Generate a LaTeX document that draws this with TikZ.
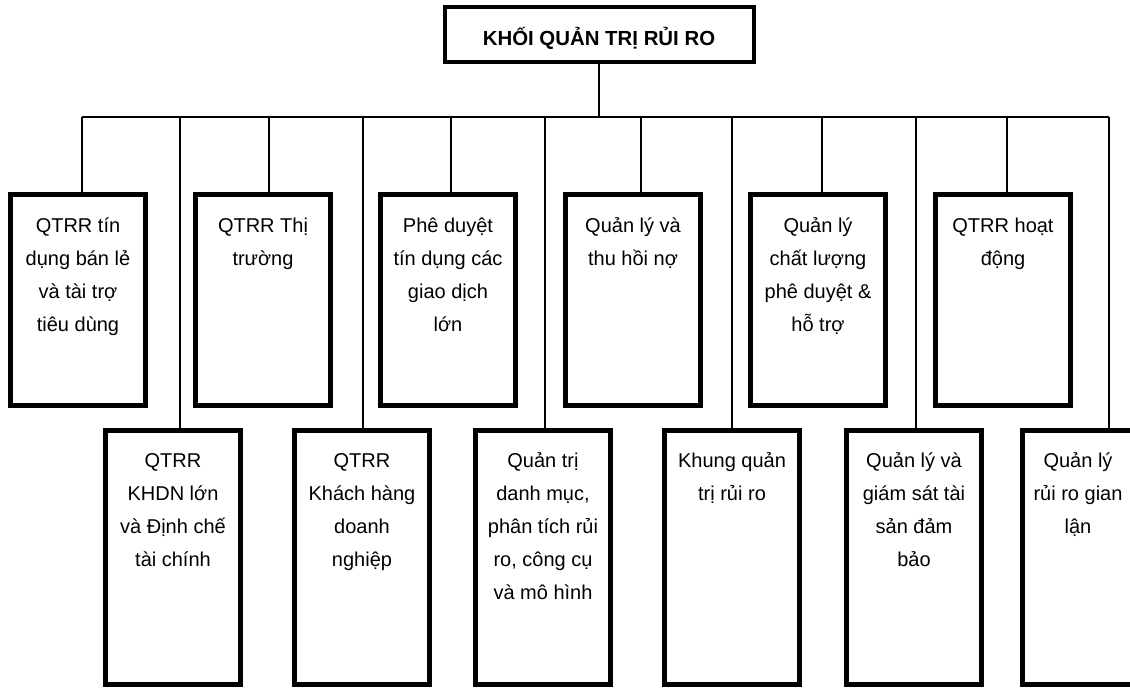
\documentclass[tikz,border=0pt]{standalone}
\usepackage{fontspec}
\setmainfont{Liberation Sans}
\newcommand{\cellbox}[4]{\parbox[t][#1][t]{#2}{\centering\rule{0pt}{#3}#4\par}}
\tikzset{
  unit/.style={draw, line width=5pt, inner sep=0pt, font=\fontsize{20}{33}\selectfont},
  head/.style={draw, line width=4pt, minimum width=309pt, minimum height=55pt, inner sep=0pt,
    text height=22pt, text depth=0pt, font=\bfseries\fontsize{20.4}{24}\selectfont},
  link/.style={line width=1.5pt},
}
\begin{document}
\begin{tikzpicture}[x=1pt,y=-1pt]
\useasboundingbox (0,0) rectangle (1130,688);
\fill[white] (0,0) rectangle (1130,688);
\clip (0,0) rectangle (1130,688);

% head
\node[head] (top) at (599,34) {KHỐI QUẢN TRỊ RỦI RO};

% top row
\node[unit] (t1) at (78,300)   {\cellbox{211pt}{135pt}{38pt}{QTRR tín\\dụng bán lẻ\\và tài trợ\\tiêu dùng}};
\node[unit] (t2) at (263,300)  {\cellbox{211pt}{135pt}{38pt}{QTRR Thị\\trường}};
\node[unit] (t3) at (448,300)  {\cellbox{211pt}{135pt}{38pt}{Phê duyệt\\tín dụng các\\giao dịch\\lớn}};
\node[unit] (t4) at (633,300)  {\cellbox{211pt}{135pt}{38pt}{Quản lý và\\thu hồi nợ}};
\node[unit] (t5) at (818,300)  {\cellbox{211pt}{135pt}{38pt}{Quản lý\\chất lượng\\phê duyệt \&\\hỗ trợ}};
\node[unit] (t6) at (1003,300) {\cellbox{211pt}{135pt}{38pt}{QTRR hoạt\\động}};

% bottom row
\node[unit] (u1) at (173,557.25)  {\cellbox{253.5pt}{135pt}{37pt}{QTRR\\KHDN lớn\\và Định chế\\tài chính}};
\node[unit] (u2) at (362,557.25)  {\cellbox{253.5pt}{135pt}{37pt}{QTRR\\Khách hàng\\doanh\\nghiệp}};
\node[unit] (u3) at (543,557.25)  {\cellbox{253.5pt}{135pt}{37pt}{Quản trị\\danh mục,\\phân tích rủi\\ro, công cụ\\và mô hình}};
\node[unit] (u4) at (732,557.25)  {\cellbox{253.5pt}{135pt}{37pt}{Khung quản\\trị rủi ro}};
\node[unit] (u5) at (914,557.25)  {\cellbox{253.5pt}{135pt}{37pt}{Quản lý và\\giám sát tài\\sản đảm\\bảo}};
\node[unit] (u6) at (1078,557.25) {\cellbox{253.5pt}{112pt}{37pt}{Quản lý\\rủi ro gian\\lận}};

% bus points
\coordinate (p1) at (82,117);
\coordinate (p2) at (180,117);
\coordinate (p3) at (269,117);
\coordinate (p4) at (363,117);
\coordinate (p5) at (451,117);
\coordinate (p6) at (545,117);
\coordinate (p7) at (641,117);
\coordinate (p8) at (732,117);
\coordinate (p9) at (822,117);
\coordinate (p10) at (916,117);
\coordinate (p11) at (1007,117);
\coordinate (p12) at (1109,117);

\draw[link] (p1) -- (p12);
\draw[link] (top.south) -- (top.south |- p1);

\draw[link] (p1) -- (p1 |- t1.north);
\draw[link] (p3) -- (p3 |- t2.north);
\draw[link] (p5) -- (p5 |- t3.north);
\draw[link] (p7) -- (p7 |- t4.north);
\draw[link] (p9) -- (p9 |- t5.north);
\draw[link] (p11) -- (p11 |- t6.north);

\draw[link] (p2) -- (p2 |- u1.north);
\draw[link] (p4) -- (p4 |- u2.north);
\draw[link] (p6) -- (p6 |- u3.north);
\draw[link] (p8) -- (p8 |- u4.north);
\draw[link] (p10) -- (p10 |- u5.north);
\draw[link] (p12) -- (p12 |- u6.north);
\end{tikzpicture}
\end{document}
